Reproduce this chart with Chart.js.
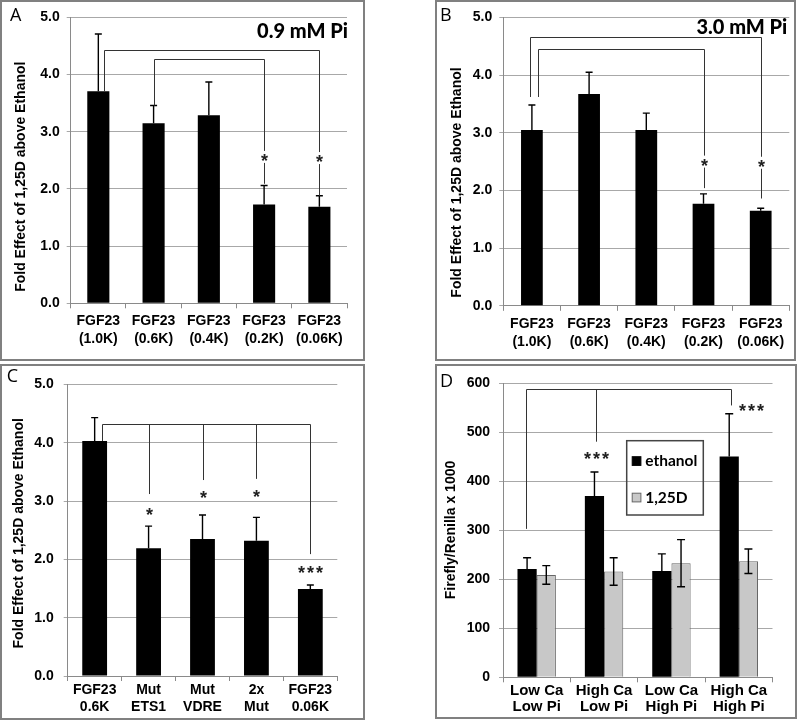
<!DOCTYPE html>
<html>
<head>
<meta charset="utf-8">
<script src="https://cdn.jsdelivr.net/npm/chart.js@4.4.1/dist/chart.umd.min.js"></script>
<style>
  body { margin: 0; background: #fff; width: 800px; height: 722px; position: relative; overflow: hidden; }
  .panel { position: absolute; border: 2px solid #808080; box-sizing: border-box; background: #fff; }
  .panel canvas { position: absolute; left: 0; top: 0; }
</style>
</head>
<body>
<div class="panel" style="left:0;top:0;width:365px;height:361px"><canvas id="chartA" width="361" height="357"></canvas></div>
<div class="panel" style="left:435px;top:0;width:361px;height:361px"><canvas id="chartB" width="357" height="357"></canvas></div>
<div class="panel" style="left:0;top:364px;width:365px;height:356px"><canvas id="chartC" width="361" height="352"></canvas></div>
<div class="panel" style="left:435px;top:364px;width:362px;height:355px"><canvas id="chartD" width="358" height="351"></canvas></div>

<script>
// ---- data ----
const labelsA = [['FGF23', '(1.0K)'], ['FGF23', '(0.6K)'], ['FGF23', '(0.4K)'], ['FGF23', '(0.2K)'], ['FGF23', '(0.06K)']];
const valuesA = [3.71, 3.15, 3.29, 1.73, 1.69];
const errorsA = [1.00, 0.31, 0.58, 0.33, 0.19];

const labelsB = [['FGF23', '(1.0K)'], ['FGF23', '(0.6K)'], ['FGF23', '(0.4K)'], ['FGF23', '(0.2K)'], ['FGF23', '(0.06K)']];
const valuesB = [3.05, 3.67, 3.05, 1.77, 1.65];
const errorsB = [0.43, 0.38, 0.29, 0.17, 0.04];

const labelsC = [['FGF23', '0.6K'], ['Mut', 'ETS1'], ['Mut', 'VDRE'], ['2x', 'Mut'], ['FGF23', '0.06K']];
const valuesC = [4.03, 2.19, 2.35, 2.32, 1.49];
const errorsC = [0.40, 0.38, 0.41, 0.40, 0.07];

const labelsD = [['Low Ca', 'Low Pi'], ['High Ca', 'Low Pi'], ['Low Ca', 'High Pi'], ['High Ca', 'High Pi']];
const seriesD = ['ethanol', '1,25D'];
const ethanolD = [221, 370, 217, 451];
const ethanolErrD = [23, 49, 35, 87];
const vitaminD = [209, 216, 233, 237];
const vitaminErrD = [19, 28, 48, 25];

// significance brackets: top of bracket and its legs (category position, where the leg stops, star)
const bracketsA = [
  { top: 4.43, legs: [{ at: 0.1, end: 3.71 }, { at: 4, star: '*', starAt: 2.54, tail: 1.88 }] },
  { top: 4.28, legs: [{ at: 1, end: 3.46 }, { at: 3, star: '*', starAt: 2.56, tail: 2.09 }] }
];
const bracketsB = [
  { top: 4.66, legs: [{ at: -0.03, end: 3.62 }, { at: 4, star: '*', starAt: 2.48, tail: 1.86 }] },
  { top: 4.45, legs: [{ at: 0.1, end: 3.62 }, { at: 3, star: '*', starAt: 2.50, tail: 2.04 }] }
];
const bracketsC = [
  { top: 4.32, legs: [
    { at: 0.13, end: 4.03 },
    { at: 1, end: 3.12, star: '*', starAt: 2.82 },
    { at: 2, end: 3.36, star: '*', starAt: 3.12 },
    { at: 3, end: 3.38, star: '*', starAt: 3.14 },
    { at: 4, end: 2.09, star: '***', starAt: 1.84 }
  ] }
];
const bracketsD = [
  { top: 588, legs: [
    { at: -0.16, end: 303 },
    { at: 0.875, end: 481, star: '***', starAt: 454 },
    { at: 2.88, end: 555 }
  ] }
];
const extraStarsD = [{ at: 3.19, value: 552, star: '***' }];

const FONT = '"Liberation Sans", Arial, sans-serif';

/**
 * Draws error bars, brackets, stars and panel texts on top of the bars
 */
function annotator(spec) {
  return {
    id: 'annotate',
    afterDatasetsDraw(chart) {
      const ctx = chart.ctx;
      const xs = chart.scales.x, ys = chart.scales.y;
      ctx.save();

      // error bars
      ctx.strokeStyle = '#000';
      ctx.lineWidth = 1.4;
      chart.data.datasets.forEach((ds, i) => {
        const meta = chart.getDatasetMeta(i);
        meta.data.forEach((bar, j) => {
          const v = ds.data[j], e = ds.err[j];
          const top = ys.getPixelForValue(v + e);
          const bottom = ds.errBoth ? ys.getPixelForValue(v - e) : bar.y;
          const cap = spec.cap;
          ctx.beginPath();
          ctx.moveTo(bar.x, bottom); ctx.lineTo(bar.x, top);
          ctx.moveTo(bar.x - cap, top); ctx.lineTo(bar.x + cap, top);
          if (ds.errBoth) { ctx.moveTo(bar.x - cap, bottom); ctx.lineTo(bar.x + cap, bottom); }
          ctx.stroke();
        });
      });

      const drawStar = (text, px, py) => {
        ctx.fillStyle = '#222';
        ctx.font = 'bold 18px ' + FONT;
        ctx.letterSpacing = text.length > 1 ? '2px' : '0px';
        ctx.textAlign = 'center';
        ctx.textBaseline = 'alphabetic';
        ctx.fillText(text, px + (text.length > 1 ? 1 : 0), py + 0.55 * 18);
        ctx.letterSpacing = '0px';
      };

      // brackets
      ctx.strokeStyle = '#333';
      ctx.lineWidth = 1;
      (spec.brackets || []).forEach(b => {
        const yTop = Math.round(ys.getPixelForValue(b.top)) + 0.5;
        const xPix = b.legs.map(l => Math.round(xs.getPixelForValue(l.at)) + 0.5);
        ctx.beginPath();
        ctx.moveTo(Math.min(...xPix), yTop); ctx.lineTo(Math.max(...xPix), yTop);
        b.legs.forEach((l, k) => {
          const px = xPix[k];
          if (l.tail !== undefined) {
            const sy = ys.getPixelForValue(l.starAt);
            ctx.moveTo(px, yTop); ctx.lineTo(px, sy - 6);
            ctx.moveTo(px, sy + 6); ctx.lineTo(px, ys.getPixelForValue(l.tail));
          } else {
            ctx.moveTo(px, yTop); ctx.lineTo(px, ys.getPixelForValue(l.end));
          }
        });
        ctx.stroke();
        b.legs.forEach((l, k) => {
          if (l.star) drawStar(l.star, xPix[k], ys.getPixelForValue(l.starAt));
        });
      });
      (spec.stars || []).forEach(s => drawStar(s.star, xs.getPixelForValue(s.at), ys.getPixelForValue(s.value)));

      // panel letter
      ctx.fillStyle = '#000';
      ctx.font = '500 18px "Open Sans", sans-serif';
      ctx.textAlign = 'left';
      ctx.textBaseline = 'alphabetic';
      ctx.fillText(spec.letter.text, spec.letter.x, spec.letter.y);

      // condition title
      if (spec.title) {
        ctx.font = '900 20px Lato, sans-serif';
        ctx.textAlign = 'right';
        ctx.fillText(spec.title.text, chart.chartArea.right + spec.title.dx, spec.title.y);
      }

      // y axis title
      ctx.save();
      ctx.translate(spec.yTitle.x, spec.yTitle.y);
      ctx.rotate(-Math.PI / 2);
      ctx.font = 'bold 14px ' + FONT;
      ctx.textAlign = 'center';
      ctx.textBaseline = 'middle';
      ctx.fillText(spec.yTitle.text, 0, 0);
      ctx.restore();

      // legend box
      if (spec.legend) {
        const L = spec.legend;
        ctx.strokeStyle = '#444';
        ctx.lineWidth = 1.5;
        ctx.strokeRect(L.x, L.y, L.w, L.h);
        ctx.font = 'bold 15.5px Lato, sans-serif';
        ctx.textAlign = 'left';
        ctx.textBaseline = 'middle';
        chart.data.datasets.forEach((ds, i) => {
          const ry = L.y + L.rows[i];
          ctx.fillStyle = ds.backgroundColor;
          ctx.fillRect(L.x + 5.5, ry - 4.3, 8.7, 8.7);
          ctx.strokeStyle = ds.borderColor || ds.backgroundColor;
          ctx.lineWidth = 1;
          ctx.strokeRect(L.x + 5.5, ry - 4.3, 8.7, 8.7);
          ctx.fillStyle = '#000';
          ctx.fillText(ds.label, L.x + 18.5, ry);
        });
      }
      ctx.restore();
    }
  };
}

function buildPanel(id, spec) {
  const canvas = document.getElementById(id);
  const W = canvas.width, H = canvas.height;
  const a = spec.area;
  return new Chart(canvas, {
    type: 'bar',
    data: { labels: spec.labels, datasets: spec.datasets },
    options: {
      responsive: false,
      animation: false,
      events: [],
      layout: { padding: { left: 0, top: a.top, right: W - a.right, bottom: 0 } },
      plugins: { legend: { display: false }, tooltip: { enabled: false } },
      scales: {
        x: {
          grid: { offset: true, drawOnChartArea: false, tickLength: 5, color: '#8a8a8a' },
          border: { color: '#8a8a8a' },
          ticks: {
            color: '#000', autoSkip: false, maxRotation: 0, padding: spec.xPad,
            font: { family: FONT, weight: 'bold', size: spec.xFont, lineHeight: spec.xLine }
          },
          afterFit: s => { s.height = H - a.bottom; }
        },
        y: {
          min: 0, max: spec.max,
          ticks: {
            stepSize: spec.step, color: '#000', padding: spec.yPad,
            font: { family: FONT, weight: 'bold', size: 14 },
            callback: spec.fmt
          },
          grid: { color: '#a8a8a8', tickLength: 4 },
          border: { color: '#8a8a8a' },
          afterFit: s => { s.width = a.left; }
        }
      }
    },
    plugins: [annotator(spec)]
  });
}

const oneDecimal = v => v.toFixed(1);
const yLabel = 'Fold Effect of 1,25D above Ethanol';

document.addEventListener('DOMContentLoaded', () => {
  buildPanel('chartA', {
    labels: labelsA,
    datasets: [{ data: valuesA, err: errorsA, backgroundColor: '#000', barPercentage: 0.40, categoryPercentage: 1 }],
    area: { left: 68.7, right: 345, top: 14.7, bottom: 301.3 },
    max: 5, step: 1, fmt: oneDecimal, xFont: 14, xLine: 1.3, xPad: 4, yPad: 7, cap: 3.5,
    brackets: bracketsA,
    letter: { text: 'A', x: 8, y: 19 },
    title: { text: '0.9 mM Pi', dx: 1, y: 36.3 },
    yTitle: { text: yLabel, x: 18.8, y: 174.7 }
  });

  buildPanel('chartB', {
    labels: labelsB,
    datasets: [{ data: valuesB, err: errorsB, backgroundColor: '#000', barPercentage: 0.38, categoryPercentage: 1 }],
    area: { left: 66.3, right: 352.3, top: 15.3, bottom: 303.8 },
    max: 5, step: 1, fmt: oneDecimal, xFont: 14, xLine: 1.3, xPad: 4, yPad: 7, cap: 3.5,
    brackets: bracketsB,
    letter: { text: 'B', x: 3, y: 19 },
    title: { text: '3.0 mM Pi', dx: -2, y: 31.5 },
    yTitle: { text: yLabel, x: 20.5, y: 180.5 }
  });

  buildPanel('chartC', {
    labels: labelsC,
    datasets: [{ data: valuesC, err: errorsC, backgroundColor: '#000', barPercentage: 0.46, categoryPercentage: 1 }],
    area: { left: 65.7, right: 335.3, top: 13, bottom: 310 },
    max: 5, step: 1, fmt: oneDecimal, xFont: 14, xLine: 1.2, xPad: 1, yPad: 10, cap: 3.5,
    brackets: bracketsC,
    letter: { text: 'C', x: 4.7, y: 16 },
    yTitle: { text: yLabel, x: 16.7, y: 167.3 }
  });

  buildPanel('chartD', {
    labels: labelsD,
    datasets: [
      { label: seriesD[0], data: ethanolD, err: ethanolErrD, backgroundColor: '#000', borderColor: '#000', barPercentage: 1, categoryPercentage: 0.57 },
      { label: seriesD[1], data: vitaminD, err: vitaminErrD, errBoth: true, backgroundColor: '#c8c8c8', borderColor: '#666', borderWidth: 1, barPercentage: 1, categoryPercentage: 0.57 }
    ],
    area: { left: 66, right: 335.5, top: 13.3, bottom: 311.3 },
    max: 600, step: 100, fmt: v => v, xFont: 15, xLine: 1.1, xPad: 0, yPad: 9, cap: 4,
    brackets: bracketsD,
    stars: extraStarsD,
    letter: { text: 'D', x: 3, y: 21 },
    yTitle: { text: 'Firefly/Renilla x 1000', x: 14, y: 164 },
    legend: { x: 189.7, y: 74.7, w: 76.6, h: 74.3, rows: [20.3, 56.8] }
  });
});
</script>
</body>
</html>
